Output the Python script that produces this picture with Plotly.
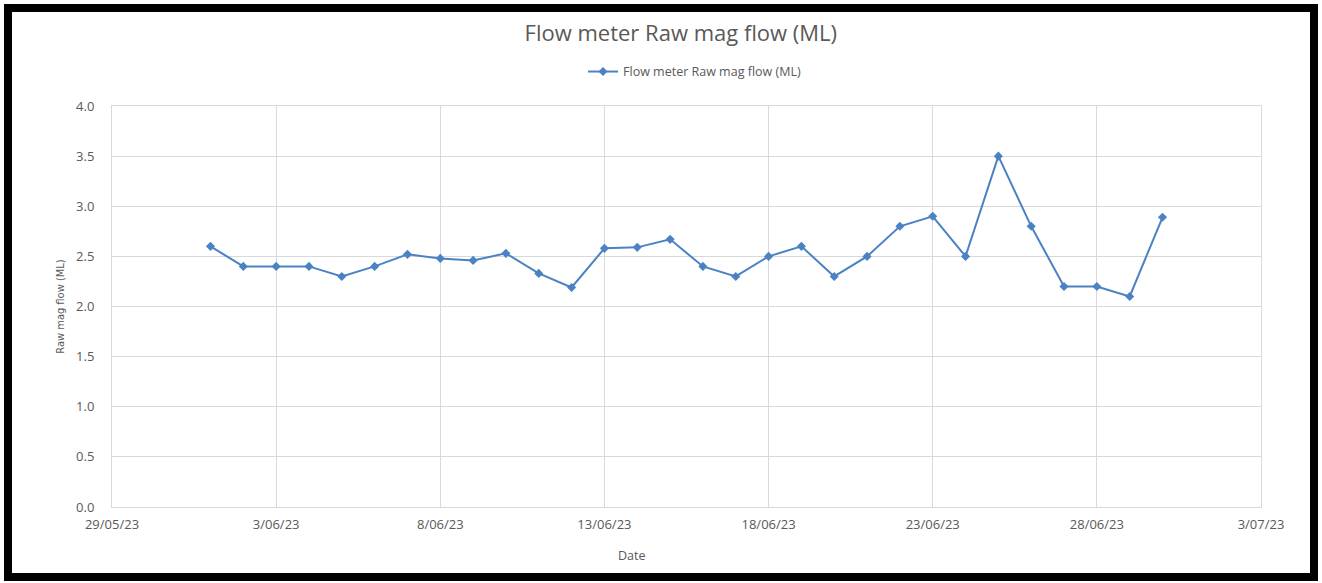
import plotly.graph_objects as go

# Daily raw mag flow readings, June 2023
dates = [f"2023-06-{d:02d}" for d in range(1, 31)]
flow_ml = [2.60, 2.40, 2.40, 2.40, 2.30, 2.40, 2.52, 2.48, 2.46, 2.53,
           2.33, 2.19, 2.58, 2.59, 2.67, 2.40, 2.30, 2.50, 2.60, 2.30,
           2.50, 2.80, 2.90, 2.50, 3.50, 2.80, 2.20, 2.20, 2.10, 2.89]

series_name = "Flow meter Raw mag flow (ML)"
x_title = "Date"
y_title = "Raw mag flow (ML)"
x_range = ["2023-05-29", "2023-07-03"]
y_ticks = [0.0, 0.5, 1.0, 1.5, 2.0, 2.5, 3.0, 3.5, 4.0]

text_grey = "#595959"
grid_grey = "#d9d9d9"
line_blue = "#4a82c4"
font_main = "Open Sans, Lato, sans-serif"

fig = go.Figure()
fig.add_trace(go.Scatter(
    x=dates, y=flow_ml, name=series_name, mode="lines+markers",
    line=dict(color=line_blue, width=2),
    marker=dict(symbol="diamond", size=7, color=line_blue),
))

fig.update_layout(
    width=1322, height=583,
    margin=dict(l=112, r=61, t=106, b=76),
    paper_bgcolor="white", plot_bgcolor="white",
    font=dict(family=font_main, color=text_grey, size=12),
    title=dict(text=series_name, x=0.515, xanchor="center", y=0.943, yanchor="middle",
               font=dict(size=22, color=text_grey, family=font_main)),
    showlegend=True,
    legend=dict(orientation="h", x=0.507, xanchor="center", y=1.085, yanchor="middle",
                font=dict(size=12.5, color=text_grey), bgcolor="rgba(0,0,0,0)"),
    xaxis=dict(
        type="date", range=x_range, tick0="2023-05-29", dtick=5 * 86400000,
        tickformat="%-d/%m/%y", showgrid=True, gridcolor=grid_grey, gridwidth=1,
        showline=True, linecolor=grid_grey, mirror=True, zeroline=False,
        ticks="", ticklabelstandoff=5, tickfont=dict(size=13, color=text_grey),
    ),
    yaxis=dict(
        range=[0, 4], tickvals=y_ticks, tickformat=".1f",
        showgrid=True, gridcolor=grid_grey, gridwidth=1,
        showline=True, linecolor=grid_grey, mirror=True, zeroline=False,
        ticks="", ticklabelstandoff=14, tickfont=dict(size=13, color=text_grey),
        title=dict(text=y_title, standoff=9,
                   font=dict(size=11, color=text_grey,
                             family="Liberation Sans Narrow, DejaVu Sans Condensed, sans-serif")),
    ),
    annotations=[dict(text=x_title, xref="paper", yref="paper",
                      x=(632 - 112) / 1149, y=(507 - 555) / 401,
                      xanchor="center", yanchor="middle", showarrow=False,
                      font=dict(size=12.5, color=text_grey, family=font_main))],
    shapes=[dict(type="rect", xref="paper", yref="paper",
                 x0=(8 - 112) / 1149, x1=(1314 - 112) / 1149,
                 y0=(507 - 8) / 401, y1=(507 - 577) / 401,
                 line=dict(color="black", width=8), fillcolor="rgba(0,0,0,0)", layer="above")],
)

fig.write_html("out.html")
